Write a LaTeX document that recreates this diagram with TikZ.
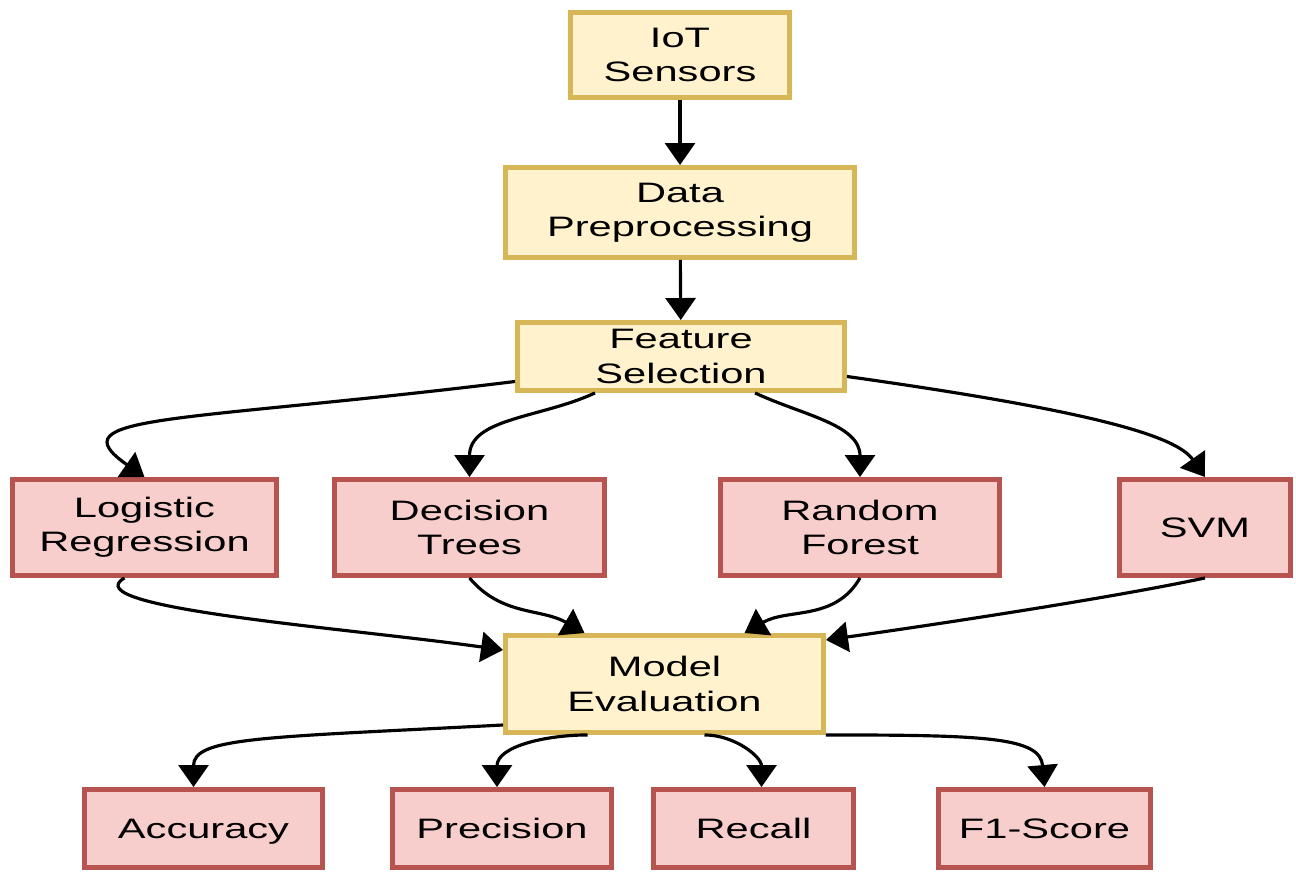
\documentclass[tikz,border=0pt]{standalone}
\usepackage{fontspec}
\setmainfont[FakeStretch=1.48]{Liberation Sans}
\usetikzlibrary{arrows.meta}
\definecolor{ylwfill}{HTML}{FFF2CC}
\definecolor{ylwline}{HTML}{D6B656}
\definecolor{redfill}{HTML}{F8CECC}
\definecolor{redline}{HTML}{B85450}
\tikzset{
	stagebox/.style={draw=ylwline, fill=ylwfill, line width=1.4pt, align=center, inner sep=0pt},
	algbox/.style={draw=redline, fill=redfill, line width=1.4pt, align=center, inner sep=0pt},
	onerow/.style={text height=5.7pt, text depth=0pt},
	flow/.style={line width=0.9pt, -{Triangle[width=0.30cm,length=0.22cm]}}
}

\begin{document}
\begin{tikzpicture}
		\tikzstyle{every node}=[font=\fontsize{8}{9.7}\selectfont]
		\useasboundingbox (0,0) rectangle (12.96,-8.76);

		% pipeline stages
		\node[stagebox, minimum width=2.19cm, minimum height=0.85cm] (iot) at (6.80,-0.55) {IoT\\Sensors};
		\node[stagebox, minimum width=3.49cm, minimum height=0.90cm] (prep) at (6.80,-2.125) {Data\\Preprocessing};
		\node[stagebox, minimum width=3.27cm, minimum height=0.68cm] (feat) at (6.81,-3.565) {Feature\\Selection};

		% models
		\node[algbox, minimum width=2.64cm, minimum height=0.96cm] (lr) at (1.445,-5.275) {Logistic\\Regression};
		\node[algbox, minimum width=2.70cm, minimum height=0.96cm] (dt) at (4.695,-5.275) {Decision\\Trees};
		\node[algbox, minimum width=2.79cm, minimum height=0.96cm] (rf) at (8.60,-5.275) {Random\\Forest};
		\node[algbox, onerow, minimum width=1.71cm, minimum height=0.96cm] (svm) at (12.05,-5.275) {SVM};

		\node[stagebox, minimum width=3.18cm, minimum height=0.97cm] (me) at (6.645,-6.84) {Model\\Evaluation};

		% metrics
		\node[algbox, onerow, minimum width=2.38cm, minimum height=0.78cm] (acc) at (2.035,-8.285) {Accuracy};
		\node[algbox, onerow, minimum width=2.19cm, minimum height=0.78cm] (prec) at (5.02,-8.285) {Precision};
		\node[algbox, onerow, minimum width=2.00cm, minimum height=0.78cm] (rec) at (7.535,-8.285) {Recall};
		\node[algbox, onerow, minimum width=2.12cm, minimum height=0.78cm] (f1) at (10.445,-8.285) {F1-Score};

		% -----------------------------------------------------
		\draw[flow] (iot) -- (prep);
		\draw[flow] (prep) -- (feat);

		\draw[flow] ([yshift=-0.25cm]feat.west) to[out=187,in=145,out distance=3.4cm,in distance=1.1cm] (lr.north);
		\draw[flow] ([xshift=-0.86cm]feat.south) to[out=205,in=90] (dt.north);
		\draw[flow] ([xshift=0.74cm]feat.south) to[out=-25,in=90] (rf.north);
		\draw[flow] ([yshift=-0.2cm]feat.east) to[out=-8,in=125,out distance=2.5cm,in distance=0.5cm] (svm.north);

		% -----------------------------------------------------
		\draw[flow] ([xshift=-0.2cm]lr.south) to[out=210,in=172,out distance=0.6cm,in distance=1.6cm] ([yshift=0.34cm]me.west);
		\draw[flow] (dt.south) to[out=-50,in=150] ([xshift=-0.80cm]me.north);
		\draw[flow] (rf.south) to[out=-120,in=30] ([xshift=0.80cm]me.north);
		\draw[flow] (svm.south) to[out=192,in=8,out distance=1cm,in distance=1cm] ([yshift=0.44cm]me.east);

		% -----------------------------------------------------
		\draw[flow] ([yshift=-0.41cm]me.west) to[out=183,in=90,out distance=2.4cm,in distance=0.5cm] ([xshift=-0.1cm]acc.north);
		\draw[flow] ([xshift=-0.77cm]me.south) to[out=180,in=90] ([xshift=-0.05cm]prec.north);
		\draw[flow] ([xshift=0.4cm]me.south) to[out=0,in=90] ([xshift=0.08cm]rec.north);
		\draw[flow] (me.south east) to[out=0,in=95,out distance=1.6cm,in distance=0.5cm] (f1.north);

\end{tikzpicture}
\end{document}
